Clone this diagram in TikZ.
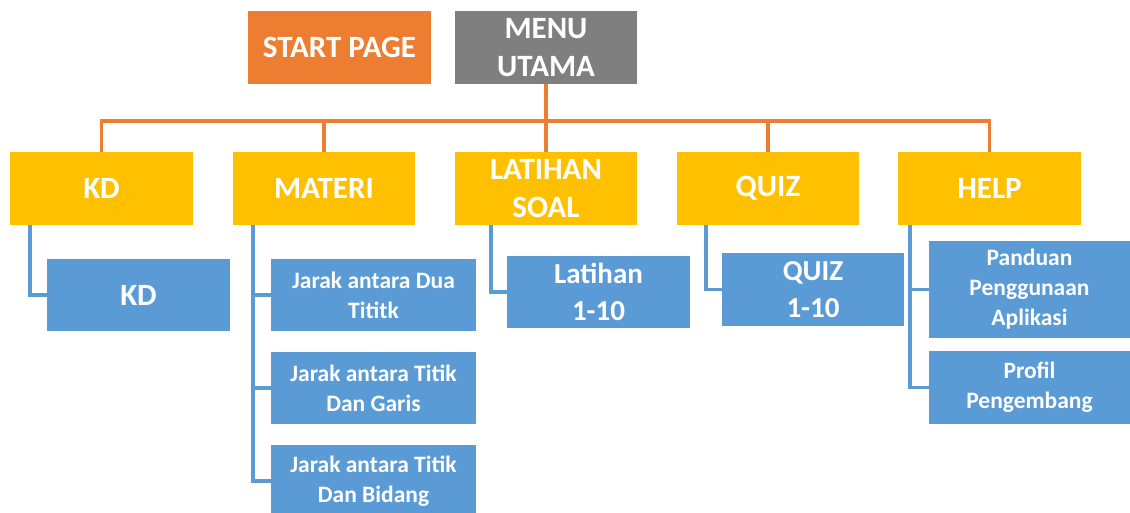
\documentclass[tikz,border=0pt]{standalone}
\usepackage{fontspec}
\setmainfont{Carlito}
\definecolor{corange}{HTML}{ED7D31}
\definecolor{cgray}{HTML}{7F7F7F}
\definecolor{cyellow}{HTML}{FFC000}
\definecolor{cblue}{HTML}{5B9BD5}
\tikzset{
  box/.style={draw=none, inner sep=1pt, align=center, text=white, font=\bfseries\fontsize{31}{38}\selectfont, minimum width=183pt, minimum height=73pt},
  topbox/.style={box, fill=corange},
  menubox/.style={box, fill=cgray},
  catbox/.style={box, fill=cyellow},
  subbox/.style={box, fill=cblue},
  smallbox/.style={subbox, font=\bfseries\fontsize{23.5}{30}\selectfont},
  oline/.style={draw=corange, line width=3.5pt},
  bline/.style={draw=cblue, line width=3.5pt},
}
\begin{document}
\begin{tikzpicture}[x=1pt,y=1pt]
\useasboundingbox (0,0) rectangle (1130,-513);
\clip (0,0) rectangle (1130,-513);
\fill[white] (0,0) rectangle (1130,-513);
% top
\node[topbox] (start) at (339.5,-47.5) {START PAGE};
\node[menubox, minimum width=182pt] (menu) at (546,-47.5) {MENU\\UTAMA};
% categories
\node[catbox] (kd) at (101.5,-188.5) {KD};
\node[catbox, minimum width=182pt] (materi) at (324,-188.5) {MATERI};
\node[catbox, minimum width=182pt] (latihan) at (546,-188.5) {LATIHAN\\SOAL};
\node[catbox, minimum width=182pt] (quiz) at (768,-188.5) {QUIZ};
\node[catbox] (help) at (989.5,-188.5) {HELP};
% sub items
\node[subbox, minimum height=72pt] (kd1) at (138.5,-295) {KD};
\node[smallbox, minimum width=205pt, minimum height=72pt] (m1) at (373.5,-295) {Jarak antara Dua\\Tititk};
\node[smallbox, minimum width=205pt, minimum height=72pt] (m2) at (373.5,-388) {Jarak antara Titik\\Dan Garis};
\node[smallbox, minimum width=205pt, minimum height=72pt] (m3) at (373.5,-481) {Jarak antara Titik\\Dan Bidang};
\node[subbox, minimum height=72pt, font=\bfseries\fontsize{29}{37}\selectfont] (lat1) at (598.5,-292) {Latihan\\1-10};
\node[subbox, minimum width=182pt, font=\bfseries\fontsize{29}{37}\selectfont] (quiz1) at (813,-289.5) {QUIZ\\1-10};
\node[smallbox, minimum width=201pt, minimum height=97pt] (pand) at (1029.5,-289.5) {Panduan\\Penggunaan\\Aplikasi};
\node[smallbox, minimum width=201pt] (prof) at (1029.5,-387.5) {Profil\\Pengembang};
% orange connectors
\coordinate (bus) at (0,-121);
\draw[oline] (menu.south) -- (latihan.north);
\draw[oline] (kd.north) -- (kd.north |- bus) -| (help.north);
\draw[oline] (materi.north) -- (materi.north |- bus);
\draw[oline] (quiz.north) -- (quiz.north |- bus);
% blue connectors
\draw[bline] ([xshift=20pt]kd.south west) |- (kd1.west);
\draw[bline] ([xshift=20pt]materi.south west) |- (m3.west);
\draw[bline] ([xshift=20pt]materi.south west) |- (m1.west);
\draw[bline] ([xshift=20pt]materi.south west) |- (m2.west);
\draw[bline] ([xshift=36pt]latihan.south west) |- (lat1.west);
\draw[bline] ([xshift=29pt]quiz.south west) |- (quiz1.west);
\draw[bline] ([xshift=12pt]help.south west) |- (prof.west);
\draw[bline] ([xshift=12pt]help.south west) |- (pand.west);
\end{tikzpicture}
\end{document}
